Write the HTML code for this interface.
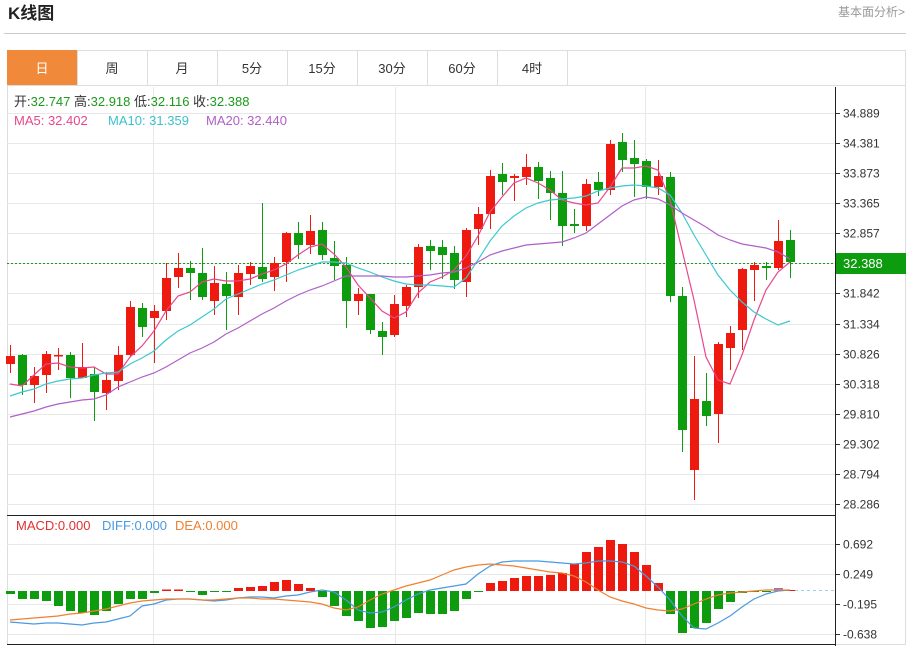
<!DOCTYPE html>
<html><head><meta charset="utf-8">
<style>
body{margin:0;background:#fff;width:914px;height:646px;overflow:hidden;font-family:"Liberation Sans","Noto Sans CJK SC",sans-serif;}
svg{position:absolute;left:0;top:0}
</style></head><body>
<svg id="s" width="914" height="646" xmlns="http://www.w3.org/2000/svg" font-family="Liberation Sans, Noto Sans CJK SC, sans-serif">
<text x="8" y="19" font-size="17" font-weight="bold" fill="#222">K线图</text>
<text x="838" y="16" font-size="12" fill="#999">基本面分析&gt;</text>
<line x1="4" y1="33.5" x2="906" y2="33.5" stroke="#ccc"/>
<rect x="7.5" y="50.5" width="898" height="594" fill="none" stroke="#ddd"/>
<line x1="7" y1="85.5" x2="906" y2="85.5" stroke="#ddd"/>
<rect x="7" y="50" width="70" height="35" fill="#f0893a"/>
<g font-size="13" fill="#333" text-anchor="middle">
<text x="42" y="73" fill="#fff">日</text>
<text x="112" y="73">周</text><text x="182" y="73">月</text><text x="252" y="73">5分</text>
<text x="322" y="73">15分</text><text x="392" y="73">30分</text><text x="462" y="73">60分</text><text x="532" y="73">4时</text>
</g>
<g stroke="#ddd"><line x1="147.5" y1="50" x2="147.5" y2="85"/><line x1="217.5" y1="50" x2="217.5" y2="85"/><line x1="287.5" y1="50" x2="287.5" y2="85"/><line x1="357.5" y1="50" x2="357.5" y2="85"/><line x1="427.5" y1="50" x2="427.5" y2="85"/><line x1="497.5" y1="50" x2="497.5" y2="85"/><line x1="567.5" y1="50" x2="567.5" y2="85"/><line x1="77.5" y1="50" x2="77.5" y2="85"/></g>
<g id="grid"></g>
<g id="plot"></g>
<g font-size="13">
<text x="14" y="106" fill="#333">开:<tspan fill="#1a9a1a">32.747</tspan>  高:<tspan fill="#1a9a1a">32.918</tspan>  低:<tspan fill="#1a9a1a">32.116</tspan>  收:<tspan fill="#1a9a1a">32.388</tspan></text>
<text x="14" y="125" fill="#e8478b">MA5: 32.402</text>
<text x="108" y="125" fill="#3cc1cc">MA10: 31.359</text>
<text x="206" y="125" fill="#b05fc8">MA20: 32.440</text>
<text x="16" y="530" fill="#e03030">MACD:0.000</text>
<text x="102" y="530" fill="#4a9ae0">DIFF:0.000</text>
<text x="175" y="530" fill="#f08030">DEA:0.000</text>
</g>
</svg>
<script>
var NS="http://www.w3.org/2000/svg";
function el(p,t,a){var e=document.createElementNS(NS,t);for(var k in a)e.setAttribute(k,a[k]);p.appendChild(e);return e;}
var g=document.getElementById('grid'),p=document.getElementById('plot');
var labs=["34.889","34.381","33.873","33.365","32.857","32.349","31.842","31.334","30.826","30.318","29.810","29.302","28.794","28.286"];
for(var i=0;i<14;i++){var y=Math.round(113+i*30.08)+0.5;
 el(g,'line',{x1:7,y1:y,x2:835,y2:y,stroke:'#e8e8e8'});
 el(g,'line',{x1:835,y1:y,x2:840,y2:y,stroke:'#333'});
 if(i!=5){var t=el(g,'text',{x:843,y:y+4,'font-size':12,fill:'#333'});t.textContent=labs[i];}}
[153.5,395.5,645.5].forEach(function(x){el(g,'line',{x1:x,y1:87,x2:x,y2:644,stroke:'#e8e8e8'});});
var ml=[["0.692",544],["0.249",574],["-0.195",604],["-0.638",634]];
ml.forEach(function(m){var y=m[1]+0.5;el(g,'line',{x1:7,y1:y,x2:835,y2:y,stroke:'#e8e8e8'});el(g,'line',{x1:835,y1:y,x2:840,y2:y,stroke:'#333'});var t=el(g,'text',{x:843,y:y+4,'font-size':12,fill:'#333'});t.textContent=m[0];});
el(g,'line',{x1:7,y1:515.5,x2:835,y2:515.5,stroke:'#222'});
el(g,'line',{x1:7,y1:644.5,x2:835,y2:644.5,stroke:'#222'});
el(g,'line',{x1:835.5,y1:87,x2:835.5,y2:646,stroke:'#222'});
el(g,'line',{x1:7,y1:263.5,x2:835,y2:263.5,stroke:'#1a9a1a','stroke-dasharray':'2,2'});
el(g,'rect',{x:836,y:253,width:70,height:21,fill:'#0d9c0d'});
var t=el(g,'text',{x:843,y:268,'font-size':13,fill:'#fff'});t.textContent="32.388";
el(g,'line',{x1:789,y1:590.5,x2:835,y2:590.5,stroke:'#9cd0ee','stroke-dasharray':'3,3'});
// candles: [top,bottom,high,low,red]
var C=[[356,364,345,373,1],[355,385,354,395,0],[376,385,367,403,1],[354,375,351,393,1],[355,356,348,370,1],[355,378,352,398,0],[367,378,343,378,1],[374,392,367,421,0],[380,393,372,410,1],[355,381,346,390,1],
[307,355,301,357,1],[308,327,303,337,0],[311,318,305,363,1],[278,311,263,320,1],[268,277,253,288,1],[268,273,261,300,0],[273,297,248,300,0],[283,301,266,315,1],[284,296,272,330,0],[273,297,265,315,1],
[266,274,262,285,1],[267,279,203,282,0],[263,277,257,291,1],[233,262,232,282,1],[233,245,222,259,0],[231,245,215,254,1],[230,255,222,260,0],[258,266,241,280,0],[265,301,257,328,0],[294,301,288,315,1],
[294,330,294,334,0],[331,337,322,355,0],[304,335,295,337,1],[287,306,285,317,1],[247,287,244,298,1],[246,251,240,270,0],[247,255,240,279,0],[253,280,246,289,0],[230,282,228,297,1],[214,229,207,245,1],
[176,214,170,229,1],[174,182,163,195,0],[176,178,174,201,1],[167,177,154,185,1],[167,181,162,199,0],[178,193,171,220,0],[193,226,171,246,0],[224,226,209,233,0],[184,226,179,231,1],[182,190,172,196,0],
[144,190,140,195,1],[142,160,133,172,0],[158,164,140,197,0],[161,187,159,199,0],[176,187,160,195,1],[177,296,172,302,0],[296,430,287,452,0],[399,470,356,500,1],[401,416,373,426,0],[344,414,342,443,1],
[333,348,326,370,1],[269,330,268,350,1],[265,270,262,301,1],[266,268,262,280,0],[241,268,220,270,1],[240,262,230,278,0]];
var R='#ee1a10',G='#0d9c0d';
C.forEach(function(c,i){var x=10+12*i,col=c[4]?R:G;
 el(p,'line',{x1:x+0.5,y1:c[2],x2:x+0.5,y2:c[3],stroke:col});
 el(p,'rect',{x:x-4,y:c[0],width:9,height:Math.max(1.5,c[1]-c[0]),fill:col});});
function line(pts,col){el(p,'polyline',{points:pts.map(function(q){return q.join(',')}).join(' '),fill:'none',stroke:col,'stroke-width':1.2});}
function ser(arr){return arr.map(function(v,i){return [10+12*i,v];});}
line(ser([384,386,375,364,363,367,368,367,374,374,357,346,331,311,296,292,282,279,281,281,279,274,270,264,255,247,244,254,267,285,298,311,318,312,293,282,277,270,256,236,212,197,183,178,183,190,200,203,205,203,187,168,168,166,170,200,250,300,357,380,384,355,320,290,272,262]),'#e8478b');
line(ser([396,392,389,384,381,379,378,375,373,372,364,358,351,340,331,325,317,309,299,294,289,284,280,275,270,266,262,262,263,268,272,277,281,284,285,285,286,287,278,260,241,226,216,208,203,200,199,198,196,191,188,186,185,186,188,195,213,235,255,275,290,302,312,319,325,321]),'#3cc8d0');
line(ser([417,414,411,407,404,402,400,399,395,387,382,377,373,367,360,353,348,342,334,328,321,314,308,301,295,290,286,281,276,276,276,276,277,277,276,275,273,272,268,262,255,251,248,245,244,243,242,238,233,224,215,206,200,197,199,205,213,220,227,235,240,244,246,248,252,259]),'#b05fc8');
// MACD bars (y end), zero at 591
var M=[594,599,599,601,606,611,613,615,611,604,599,599,593,589.5,589.5,592,595,592,592,588,587,586,582,580,584,588,597,606,616,621,628,627,621,618,613,614,614,611,599,592,583,581,578,576,576,575,573,564,552,547,540,544,552,565,583,614,633,628,623,609,602,593,592,592,588,590];
M.forEach(function(v,i){var x=10+12*i;var up=v<591;var col=up?R:G;if(i==64)col='#a070c0';
 el(p,'rect',{x:x-4,y:Math.min(v,591),width:9,height:Math.max(1,Math.abs(v-591)),fill:col});});
line(ser([622,623,624,623,623,624,625,623,622,619,616,606,604,600,599,599,600,601,600,598,597,597,598,596,595,592,590,592,600,610,613,612,607,600,594,590,588,586,584,574,566,562,561,561,561,562,563,564,563,561,561,562,566,576,587,600,616,628,629,623,616,607,599,594,591,590]),'#4a9ae0');
line(ser([620,619,618,617,616,614,613,611,609,606,603,601,600,599,599,599,600,600,599,598,598,599,599,600,601,602,604,608,610,607,600,594,590,586,583,580,575,570,567,565,564,565,566,568,570,572,573,576,582,590,597,601,604,608,610,611,609,604,599,595,593,592,591,590,590,590]),'#f08030');
</script>
</body></html>
